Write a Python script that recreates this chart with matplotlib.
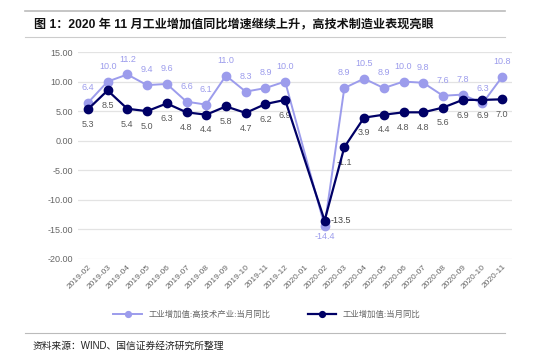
import matplotlib
matplotlib.use("Agg")
import matplotlib.pyplot as plt
import numpy as np

plt.rcParams['font.family'] = ['Liberation Sans', 'Noto Sans CJK SC', 'DejaVu Sans']

months = ['2019-02', '2019-03', '2019-04', '2019-05', '2019-06', '2019-07',
          '2019-08', '2019-09', '2019-10', '2019-11', '2019-12', '2020-01',
          '2020-02', '2020-03', '2020-04', '2020-05', '2020-06', '2020-07',
          '2020-08', '2020-09', '2020-10', '2020-11']

# 2020-01 has no data (merged Jan-Feb release)
hightech = [6.4, 10.0, 11.2, 9.4, 9.6, 6.6, 6.1, 11.0, 8.3, 8.9, 10.0, np.nan,
            -14.4, 8.9, 10.5, 8.9, 10.0, 9.8, 7.6, 7.8, 6.3, 10.8]
industry = [5.3, 8.5, 5.4, 5.0, 6.3, 4.8, 4.4, 5.8, 4.7, 6.2, 6.9, np.nan,
            -13.5, -1.1, 3.9, 4.4, 4.8, 4.8, 5.6, 6.9, 6.9, 7.0]

name_ht = '工业增加值:高技术产业:当月同比'
name_ind = '工业增加值:当月同比'

c_ht = '#9C9CEC'
c_ind = '#000066'

fig = plt.figure(figsize=(5.54, 3.6), dpi=100)
ax = fig.add_axes([78 / 554, 1 - 259 / 360, 434 / 554, 207 / 360])

x = np.arange(len(months))
ht = np.array(hightech)
ind = np.array(industry)
m1 = ~np.isnan(ht)
m2 = ~np.isnan(ind)

ax.plot(x[m1], ht[m1], color=c_ht, lw=1.4, marker='o', ms=6, label=name_ht, zorder=3)
ax.plot(x[m2], ind[m2], color=c_ind, lw=1.6, marker='o', ms=6, label=name_ind, zorder=4)

# data labels
for i in x[m1]:
    dy = 11
    if i == 12:
        dy = -8
    ax.annotate(f'{ht[i]:.1f}', (i, ht[i]), xytext=(0, dy), textcoords='offset points',
                ha='center', va='center', fontsize=6.5, color=c_ht)
for i in x[m2]:
    if i == 12:
        ax.annotate(f'{ind[i]:.1f}', (i, ind[i]), xytext=(4, 0), textcoords='offset points',
                    ha='left', va='center', fontsize=6.5, color='#404040')
        continue
    ax.annotate(f'{ind[i]:.1f}', (i, ind[i]), xytext=(0, -11), textcoords='offset points',
                ha='center', va='center', fontsize=6.5, color='#595959')

ax.set_xlim(-0.5, len(months) - 0.5)
ax.set_ylim(-20, 15)
ax.set_yticks(np.arange(-20, 16, 5))
ax.set_yticklabels([f'{v:.2f}' for v in np.arange(-20, 16, 5)])
ax.set_xticks(x)
ax.set_xticklabels(months, rotation=45, ha='right', rotation_mode='anchor')
ax.tick_params(axis='both', length=0, labelsize=6.5, labelcolor='#666666')
ax.tick_params(axis='x', pad=3, labelsize=6)
ax.grid(axis='y', color='#E3E3E3', lw=0.9)
ax.set_axisbelow(True)
for s in ax.spines.values():
    s.set_visible(False)

fig.legend(loc='center', bbox_to_anchor=(267 / 554, 1 - 315 / 360), ncol=2, frameon=False,
           fontsize=6, labelcolor='#666666', handlelength=3.4, columnspacing=4.5,
           markerscale=0.7)

# title and rules
fig.lines.append(plt.Line2D([25 / 554, 505 / 554], [1 - 11 / 360] * 2, color='#BBBBBB', lw=1.2,
                            transform=fig.transFigure))
fig.lines.append(plt.Line2D([25 / 554, 505 / 554], [1 - 37 / 360] * 2, color='#CCCCCC', lw=0.8,
                            transform=fig.transFigure))
fig.lines.append(plt.Line2D([25 / 554, 505 / 554], [1 - 333 / 360] * 2, color='#BBBBBB', lw=0.8,
                            transform=fig.transFigure))
fig.text(34 / 554, 1 - 24 / 360, '图 1：2020 年 11 月工业增加值同比增速继续上升，高技术制造业表现亮眼',
         fontsize=8.7, fontweight='bold', va='center', ha='left', color='#111111')
fig.text(33 / 554, 1 - 346 / 360, '资料来源：WIND、国信证券经济研究所整理',
         fontsize=7, va='center', ha='left', color='#222222')

fig.savefig('out.png', dpi=100)
